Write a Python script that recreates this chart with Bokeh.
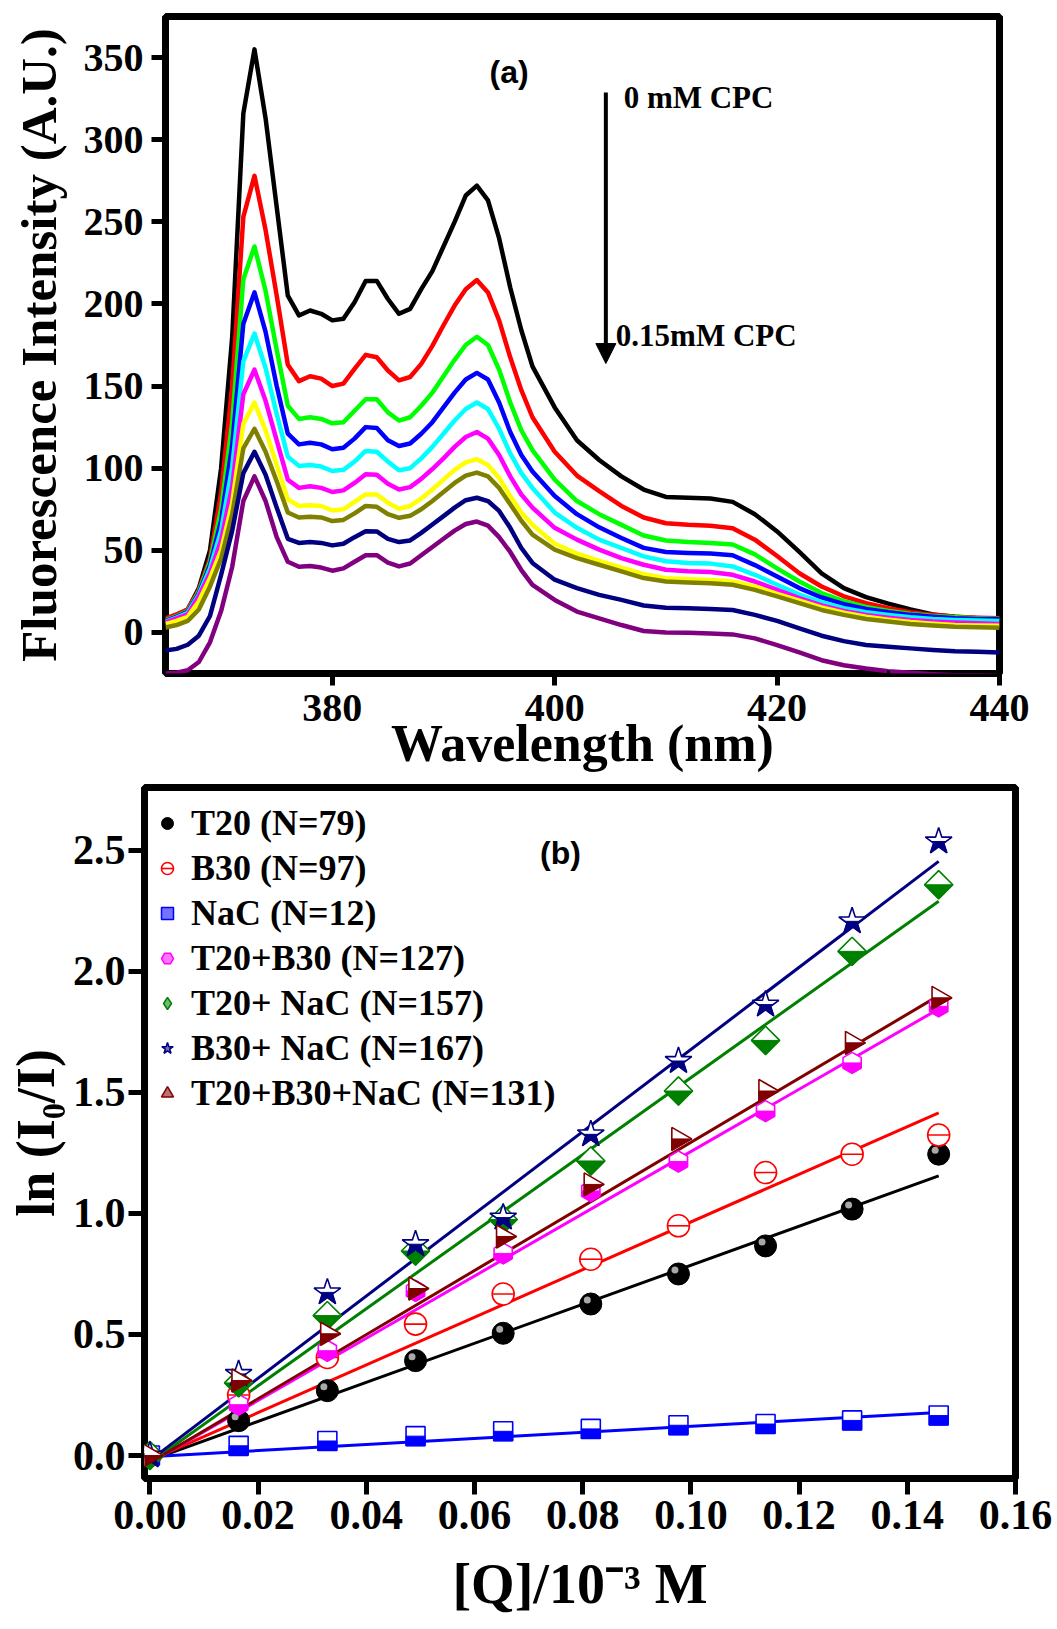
import math
from bokeh.plotting import figure
from bokeh.layouts import column, row
from bokeh.models import FixedTicker, PrintfTickFormatter, Label, Arrow, NormalHead, Legend, LegendItem
from bokeh.embed import file_html
from bokeh.resources import INLINE

# ---------------- panel (a) data ----------------
WAVELENGTH = list(range(365, 399)) + list(range(400, 441, 2))

CPC_0 = [8, 10, 14, 27, 50, 100, 180, 316, 355, 313, 259, 205, 193, 196, 194, 190, 191, 201, 214, 214,
         203, 194, 197, 209, 220, 235, 250, 266, 272, 263, 240, 210, 184, 162,
         137, 117, 105, 95, 87, 82.5, 82, 81.5, 79.5, 72, 61.5, 49, 36, 27, 21.5, 17.5, 14, 11, 9.5, 8.7, 8.2]
CPC_1 = [8.5, 11, 14, 26, 45, 85, 150, 253, 278, 245, 205, 163, 153, 156, 154.5, 150, 151.5, 160.5, 169, 167.5,
         159.5, 153.5, 155.5, 163.5, 174.5, 187, 199, 209, 214.5, 207, 190, 167.5, 147.5, 131,
         110, 95.5, 86, 77, 70, 66.5, 65.5, 65, 63.5, 56.5, 46.5, 36, 28, 22, 17.8, 14.7, 12.3, 10.7, 9.6, 9, 8.6]
CPC_2 = [7.5, 10, 13, 25, 43, 75, 128, 215, 235, 208, 172, 138, 130, 131, 130, 127.3, 128, 135, 142, 142,
         134, 129, 131, 138, 146, 156, 166, 175, 180, 175, 160, 140, 123, 111,
         93, 80, 72, 65.5, 59, 56, 55, 54.5, 53.5, 47.5, 39, 31, 24, 19, 15.5, 13, 11.3, 10, 9.2, 8.6, 8.2]
CPC_3 = [7, 9.5, 12.5, 24, 41, 68, 114, 188, 207, 183, 150, 121, 114.5, 115.5, 114.5, 111.5, 112.5, 118, 125, 124.5,
         117, 113.5, 115, 121, 128, 137, 146, 154, 158, 154, 140, 122, 108, 98,
         83, 72, 64, 57.5, 51.5, 49, 48.4, 48, 47, 41, 34, 27, 21.3, 17.2, 14.3, 12.3, 10.7, 9.6, 8.6, 8.2, 8]
CPC_4 = [6.5, 9, 12, 23, 39, 62, 101, 165, 182, 161, 133, 107, 101.4, 102, 101, 98.3, 99, 104, 110.5, 110,
         104, 98.7, 100, 106, 113, 121, 129, 136, 140, 136, 124, 109, 97, 88,
         73, 63.7, 56.5, 51.4, 46.3, 43.3, 42.3, 41.9, 40.2, 35.1, 29, 23, 18.4, 14.7, 12.3, 10.7, 9.2, 8.2, 7.6, 7.2, 7]
CPC_5 = [6, 8.5, 11, 22, 36, 56, 89, 145, 160, 141, 117, 93, 88, 89, 88, 85.5, 86.5, 91, 96.3, 96,
         90.5, 87, 88.5, 93.5, 99.5, 106, 113, 119, 122, 118, 108, 95, 84, 76,
         63.7, 56.5, 50.4, 45.3, 41.2, 38.2, 37.2, 36.8, 35.1, 31, 25.9, 20.9, 16.4, 13.1, 10.7, 9, 7.6, 6.6, 6, 5.6, 5.2]
CPC_6 = [5, 7, 9.5, 19, 33, 50, 79, 127, 140, 123, 102, 81, 77, 77.5, 77, 74.3, 75, 79.5, 84, 84,
         79, 75.3, 77, 81.5, 87, 93, 99, 103.5, 105.5, 102, 94, 83, 73, 65.5,
         54, 48, 43.5, 39.5, 35.5, 33, 32.4, 32, 31, 28, 23.5, 19.3, 15.2, 12, 9.5, 7.8, 6.3, 5.3, 4.6, 4.2, 4]
CPC_7 = [3, 4.5, 7, 14, 28, 45, 72, 112, 124, 110, 92, 73, 70, 70.5, 70, 67.8, 68.5, 72.5, 77, 76.5,
         72, 69.8, 71, 75, 80, 85.5, 91, 95.5, 97.3, 95, 88, 78, 68, 59.6,
         50.4, 45.3, 41.2, 37.2, 33.1, 31, 30.4, 30, 29, 25.9, 21.9, 17.8, 13.7, 10.7, 8.2, 6.6, 5.2, 4.2, 3.5, 3.1, 2.9]
CPC_8 = [-11, -10, -7.5, -2, 10, 35, 62, 97, 110, 96, 76, 57, 54.5, 55, 54.5, 53, 54, 58, 61.6, 61.5,
         57, 55, 56, 60.6, 65.7, 70.8, 76, 80.5, 82, 80, 74, 63.7, 51.4, 42.3,
         32.1, 27, 22.9, 19.8, 16.4, 15.1, 14.7, 14.3, 13.7, 10.7, 7, 2.5, -2, -5.3, -7.7, -8.7, -9.7, -10.7, -11.4, -11.8, -12.2]
CPC_9 = [-25, -24.5, -23, -18, -6, 13, 40, 80, 95, 80, 58, 43, 40, 40.5, 39.5, 37.6, 39, 43, 47, 47,
         42.5, 40.2, 42, 47, 52, 57, 62, 66, 67.5, 65, 58, 49, 38, 29,
         19.8, 12.7, 8.6, 4.5, 0.9, 0, -0.2, -0.6, -1.2, -3.6, -7.7, -12.2, -16.9, -20, -22, -23.6, -24.6, -25.4, -26, -26, -26.4]
SPECTRA = [CPC_0, CPC_1, CPC_2, CPC_3, CPC_4, CPC_5, CPC_6, CPC_7, CPC_8, CPC_9]
SPECTRA_COLORS = ["#000000", "#ff0000", "#00ff00", "#0000ff", "#00ffff",
                  "#ff00ff", "#ffff00", "#808000", "#000080", "#800080"]
A_XTICKS = [380, 400, 420, 440]
A_YTICKS = [0, 50, 100, 150, 200, 250, 300, 350]

# ---------------- panel (b) data ----------------
Q = [0.0, 0.0164, 0.0328, 0.0491, 0.0653, 0.0815, 0.0977, 0.1138, 0.1298, 0.1458]
T20 = [0.0, 0.144, 0.268, 0.392, 0.505, 0.626, 0.75, 0.866, 1.018, 1.245]
B30 = [0.0, 0.25, 0.405, 0.543, 0.667, 0.811, 0.949, 1.169, 1.245, 1.324]
NAC = [0.0, 0.04, 0.06, 0.08, 0.10, 0.11, 0.125, 0.13, 0.145, 0.165]
T20_B30 = [0.0, 0.21, 0.433, 0.68, 0.835, 1.093, 1.215, 1.423, 1.622, 1.856]
T20_NAC = [0.0, 0.30, 0.578, 0.845, 0.975, 1.217, 1.506, 1.715, 2.083, 2.358]
B30_NAC = [0.0, 0.337, 0.674, 0.873, 0.983, 1.327, 1.63, 1.863, 2.207, 2.537]
T20_B30_NAC = [0.0, 0.31, 0.503, 0.69, 0.905, 1.12, 1.308, 1.506, 1.705, 1.891]
# fitted lines: value at Q=0 and at the last Q
FIT_START = [-0.02, -0.02, -0.005, -0.03, -0.03, -0.02, -0.03]
FIT_END = [1.155, 1.416, 0.178, 1.845, 2.29, 2.455, 1.90]
LABELS = ["T20 (N=79)", "B30 (N=97)", "NaC (N=12)", "T20+B30 (N=127)",
          "T20+ NaC (N=157)", "B30+ NaC (N=167)", "T20+B30+NaC (N=131)"]
B_COLORS = ["#000000", "#ff0000", "#0000ff", "#ff00ff", "#008000", "#000080", "#800000"]
B_XTICKS = [0.0, 0.02, 0.04, 0.06, 0.08, 0.10, 0.12, 0.14, 0.16]
B_YTICKS = [0.0, 0.5, 1.0, 1.5, 2.0, 2.5]

SERIF = "Liberation Serif"
SANS = "Liberation Sans"


def style(p, tick_px):
    p.outline_line_color = "black"
    p.outline_line_width = 7
    p.grid.visible = False
    p.background_fill_color = "white"
    p.border_fill_color = "white"
    for ax in p.axis:
        ax.axis_line_color = None
        ax.major_tick_line_width = 5
        ax.major_tick_line_color = "black"
        ax.major_tick_in = 0
        ax.minor_tick_line_width = 3
        ax.minor_tick_in = 3
        ax.minor_tick_out = 3
        ax.major_label_text_font = SERIF
        ax.major_label_text_font_style = "bold"
        ax.major_label_text_font_size = tick_px
        ax.major_label_text_color = "black"
        ax.axis_label_text_font = SERIF
        ax.axis_label_text_font_style = "bold"
        ax.axis_label_text_color = "black"


# ================= panel (a) =================
XR_A = (365, 440)
YR_A = (-25, 375)
pa = figure(x_range=XR_A, y_range=YR_A, frame_width=834, frame_height=657,
            min_border_left=165, min_border_right=58, min_border_top=16, min_border_bottom=110,
            output_backend="svg", toolbar_location=None)
for ys, c in zip(SPECTRA, SPECTRA_COLORS):
    pa.line(WAVELENGTH, ys, line_color=c, line_width=4.5, line_join="round")

style(pa, "40px")
pa.xaxis.ticker = FixedTicker(ticks=A_XTICKS, minor_ticks=[370, 390, 410, 430])
pa.yaxis.ticker = FixedTicker(ticks=A_YTICKS, minor_ticks=[25, 75, 125, 175, 225, 275, 325])
pa.xaxis.axis_label = "Wavelength (nm)"
pa.yaxis.axis_label = "Fluorescence Intensity (A.U.)"
pa.xaxis.axis_label_text_font_size = "52px"
pa.yaxis.axis_label_text_font_size = "51px"
pa.xaxis.major_tick_out = 12
pa.yaxis.major_tick_out = 14
pa.xaxis.major_label_standoff = 9
pa.yaxis.major_label_standoff = 8
pa.xaxis.axis_label_standoff = -9
pa.yaxis.axis_label_standoff = 14

pa.add_layout(Label(x=395.9, y=341.5, text="(a)", text_align="center", text_baseline="middle",
                    text_font=SANS, text_font_style="bold", text_font_size="32px", text_color="black"))
pa.add_layout(Label(x=406.2, y=325.5, text="0 mM CPC", text_align="left", text_baseline="middle",
                    text_font=SERIF, text_font_style="bold", text_font_size="31px", text_color="black"))
pa.add_layout(Label(x=405.5, y=180.8, text="0.15mM CPC", text_align="left", text_baseline="middle",
                    text_font=SERIF, text_font_style="bold", text_font_size="31px", text_color="black"))
pa.add_layout(Arrow(x_start=404.6, y_start=328.7, x_end=404.6, y_end=163.7, line_width=4,
                    line_color="black",
                    end=NormalHead(size=20, fill_color="black", line_color="black", line_width=1)))

# ================= panel (b) =================
XR_B = (-0.001, 0.16)
YR_B = (-0.095, 2.76)
FW_B, FH_B = 871, 691
PPU_X = FW_B / (XR_B[1] - XR_B[0])
PPU_Y = FH_B / (YR_B[1] - YR_B[0])

pb = figure(x_range=XR_B, y_range=YR_B, frame_width=FW_B, frame_height=FH_B,
            min_border_left=144, min_border_right=42, min_border_top=4, min_border_bottom=151,
            output_backend="svg", toolbar_location=None)

for y0, y1, c in zip(FIT_START, FIT_END, B_COLORS):
    pb.line([Q[0], Q[-1]], [y0, y1], line_color=c, line_width=3)

SQ2, SQ3 = math.sqrt(2), math.sqrt(3)


def clip_lower(poly):
    out = []
    for i in range(len(poly)):
        cx, cy = poly[i]
        px, py = poly[i - 1]
        if cy >= 0:
            if py < 0:
                t = py / (py - cy)
                out.append((px + t * (cx - px), 0.0))
            out.append((cx, cy))
        elif py >= 0:
            t = py / (py - cy)
            out.append((px + t * (cx - px), 0.0))
    return out


def lower_half(shape, size):
    r = size / 2
    if shape == "square":
        return [(-r, 0), (r, 0), (r, r), (-r, r)]
    if shape == "diamond":
        d = r * SQ2
        return [(-d, 0), (d, 0), (0, d)]
    if shape == "hex":
        h = r * SQ3 / 2
        return [(-h, 0), (h, 0), (h, r / 2), (0, r), (-h, r / 2)]
    if shape == "tri_right":
        h = r * SQ3
        return [(-h / 3, 0), (2 * h / 3, 0), (-h / 3, r)]
    pts = []
    for k in range(10):
        a = -math.pi / 2 + k * math.pi / 5
        rr = r if k % 2 == 0 else r * 0.381966
        pts.append((rr * math.cos(a), rr * math.sin(a)))
    return clip_lower(pts)


def half_fill(p, xs, ys, shape, size, color):
    poly = lower_half(shape, size)
    pxs = [[x + dx / PPU_X for dx, dy in poly] for x in xs]
    pys = [[y - dy / PPU_Y for dx, dy in poly] for y in ys]
    p.patches(pxs, pys, fill_color=color, line_color=color, line_width=1)


legend_items = []

# T20: black shaded spheres
r_t20 = pb.scatter(Q, T20, marker="circle", size=22, fill_color="black", line_color="black")
pb.scatter([q - 3.5 / PPU_X for q in Q], [v + 4 / PPU_Y for v in T20], marker="circle", size=7,
           fill_color="#a8a8a8", line_color=None)
legend_items.append(LegendItem(label=LABELS[0], renderers=[r_t20]))

# B30: circle with bar
r_b30 = pb.scatter(Q, B30, marker="circle", size=22, fill_color="white", line_color=B_COLORS[1], line_width=1.6)
r_b30d = pb.scatter(Q, B30, marker="dash", size=22, line_color=B_COLORS[1], line_width=1.6)
legend_items.append(LegendItem(label=LABELS[1], renderers=[r_b30, r_b30d]))

# half filled markers: (values, marker, half shape, angle, size, legend marker, colour index)
specs = [
    (NAC, "square", "square", 0.0, 19, "square", 2),
    (T20_B30, "hex", "hex", math.pi / 2, 21, "hex", 3),
    (T20_NAC, "square", "diamond", math.pi / 4, 20, "diamond", 4),
    (B30_NAC, "star", "star", 0.0, 28, "star", 5),
    (T20_B30_NAC, "triangle", "tri_right", -math.pi / 2, 23, "triangle", 6),
]
for vals, marker, shape, ang, size, lmarker, idx in specs:
    c = B_COLORS[idx]
    # small legend glyph, hidden underneath the white-filled marker in the plot
    proxy = pb.scatter(Q, vals, marker=lmarker, size=5, fill_color=c, fill_alpha=0.55,
                       line_color=c, line_width=1.5)
    pb.scatter(Q, vals, marker=marker, angle=ang, size=size, fill_color="white", line_color=c, line_width=1.6)
    half_fill(pb, Q, vals, shape, size, c)
    legend_items.append(LegendItem(label=LABELS[idx], renderers=[proxy]))

style(pb, "42px")
pb.xaxis.ticker = FixedTicker(ticks=B_XTICKS, minor_ticks=[0.01, 0.03, 0.05, 0.07, 0.09, 0.11, 0.13, 0.15])
pb.yaxis.ticker = FixedTicker(ticks=B_YTICKS, minor_ticks=[0.25, 0.75, 1.25, 1.75, 2.25])
pb.xaxis.formatter = PrintfTickFormatter(format="%.2f")
pb.yaxis.formatter = PrintfTickFormatter(format="%.1f")
pb.xaxis.axis_label = "[Q]/10\u207b\u00b3 M"
pb.yaxis.axis_label = "ln (I\u2080/I)"
pb.xaxis.axis_label_text_font_size = "56px"
pb.yaxis.axis_label_text_font_size = "54px"
pb.xaxis.major_tick_out = 16
pb.yaxis.major_tick_out = 16
pb.xaxis.major_label_standoff = 6
pb.yaxis.major_label_standoff = 3
pb.xaxis.axis_label_standoff = 21
pb.yaxis.axis_label_standoff = 4

legend = Legend(items=legend_items, location=(0, 355), padding=8, margin=0, spacing=1,
                glyph_width=30, glyph_height=30, label_height=44, label_standoff=9,
                label_text_font=SERIF, label_text_font_style="bold", label_text_font_size="36px",
                label_text_color="black", border_line_alpha=0, background_fill_alpha=0)
pb.add_layout(legend)

pb.add_layout(Label(x=0.0759, y=2.49, text="(b)", text_align="center", text_baseline="middle",
                    text_font=SANS, text_font_style="bold", text_font_size="32px", text_color="black"))

# each panel in its own row so that the two plot frames are not aligned to each other
layout = column(row(pa), row(pb), spacing=0)
open("out.html", "w").write(file_html(layout, INLINE))
